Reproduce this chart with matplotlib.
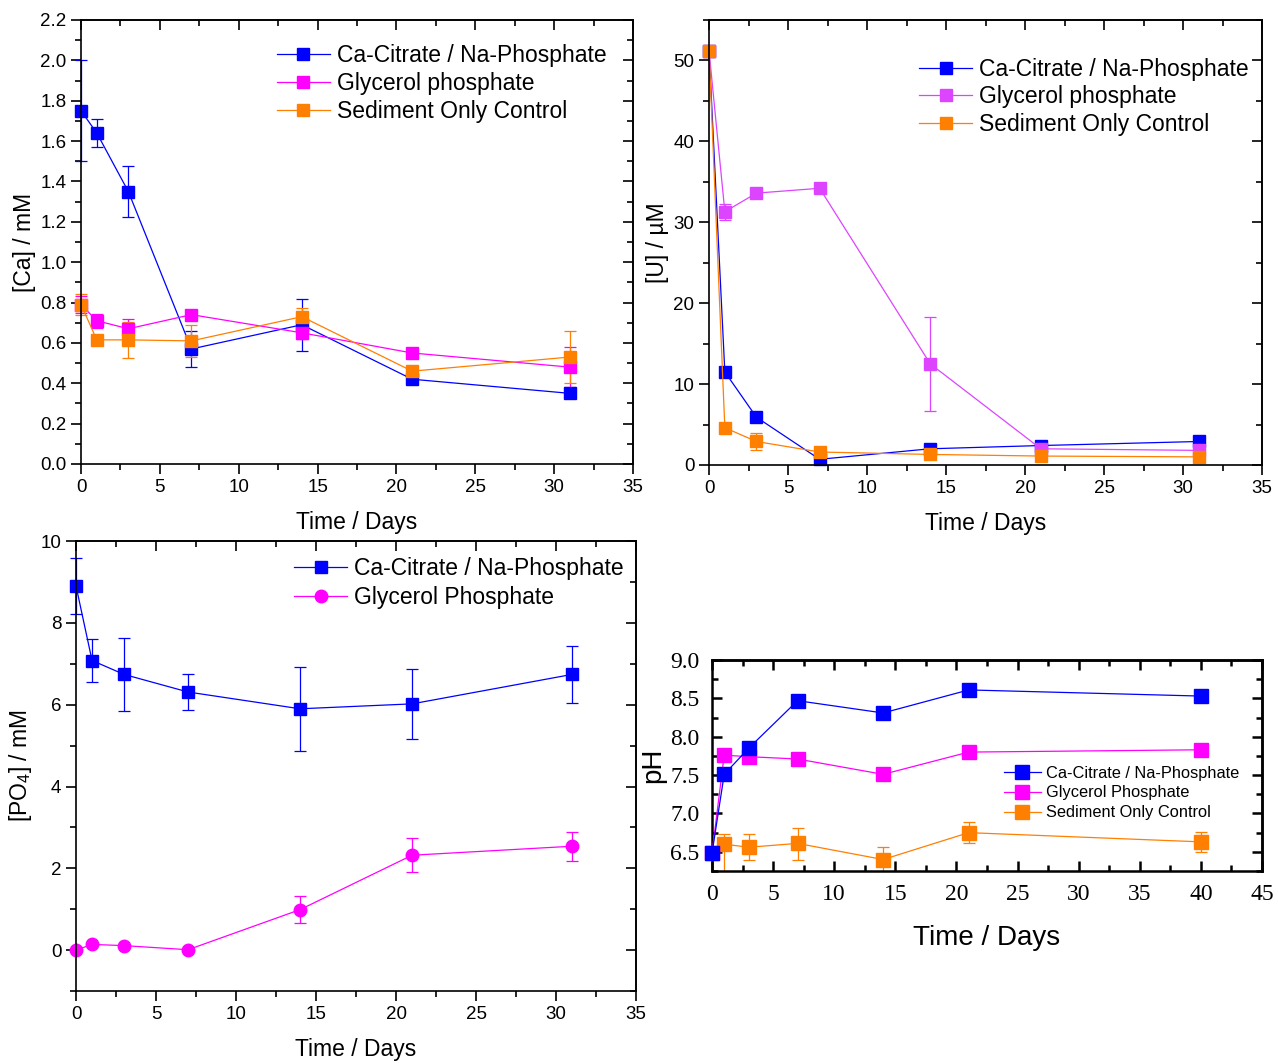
import numpy as np
import matplotlib
matplotlib.use("Agg")
import matplotlib.pyplot as plt
from matplotlib.ticker import MultipleLocator
from matplotlib.lines import Line2D

plt.rcParams['font.family'] = ['Liberation Sans', 'DejaVu Sans']
plt.rcParams['font.serif'] = ['Liberation Serif', 'DejaVu Serif']
plt.rcParams['mathtext.fontset'] = 'custom'
plt.rcParams['mathtext.rm'] = 'Liberation Sans'

# sampling days
days = [0, 1, 3, 7, 14, 21, 31]
days_ph = [0, 1, 3, 7, 14, 21, 40]
days_ph_ctrl = [1, 3, 7, 14, 21, 40]

labels3 = ["Ca-Citrate / Na-Phosphate", "Glycerol phosphate", "Sediment Only Control"]

# [Ca] / mM
ca_citrate = [1.75, 1.64, 1.35, 0.57, 0.69, 0.42, 0.35]
ca_citrate_err = [0.25, 0.07, 0.125, 0.09, 0.13, 0.02, 0.02]
ca_glycerol = [0.79, 0.71, 0.67, 0.74, 0.65, 0.55, 0.48]
ca_glycerol_err = [0.04, 0.035, 0.05, 0.01, 0.03, 0.01, 0.10]
ca_control = [0.79, 0.615, 0.615, 0.61, 0.73, 0.46, 0.53]
ca_control_err = [0.05, 0.01, 0.09, 0.08, 0.045, 0.02, 0.13]

# [U] / uM
u_citrate = [51.2, 11.5, 5.9, 0.7, 2.0, 2.4, 2.9]
u_citrate_err = [0.3, 0.3, 0.3, 0.3, 0.3, 0.5, 0.4]
u_glycerol = [51.2, 31.3, 33.6, 34.2, 12.5, 2.0, 1.8]
u_glycerol_err = [0.3, 1.0, 0.5, 0.3, 5.8, 0.5, 0.3]
u_control = [51.2, 4.6, 2.9, 1.6, 1.3, 1.1, 1.0]
u_control_err = [0.3, 0.3, 1.1, 0.3, 0.3, 0.3, 0.3]

# [PO4] / mM
po4_citrate = [8.9, 7.08, 6.74, 6.31, 5.9, 6.02, 6.74]
po4_citrate_err = [0.68, 0.52, 0.9, 0.43, 1.03, 0.86, 0.69]
po4_glycerol = [0.0, 0.14, 0.11, 0.01, 0.99, 2.32, 2.54]
po4_glycerol_err = [0.02, 0.02, 0.02, 0.02, 0.33, 0.41, 0.36]

# pH
ph_citrate = [6.48, 7.51, 7.85, 8.47, 8.31, 8.61, 8.53]
ph_glycerol = [6.48, 7.76, 7.74, 7.71, 7.51, 7.80, 7.83]
ph_control = [6.60, 6.56, 6.61, 6.40, 6.75, 6.63]
ph_control_err_lo = [0.40, 0.17, 0.21, 0.16, 0.14, 0.13]
ph_control_err_hi = [0.13, 0.17, 0.20, 0.16, 0.14, 0.13]
ph_xticks = [0, 5, 10, 15, 20, 25, 30, 35, 40, 45]
ph_yticks = [6.5, 7.0, 7.5, 8.0, 8.5, 9.0]

BLUE = '#0000FF'
MAGENTA = '#FF00FF'
VIOLET = '#DD44FF'
ORANGE = '#FF7F00'

fig = plt.figure(figsize=(12.78, 10.63), dpi=100)

def style_axes(ax, xmaj, ymaj, out=True, lw=1.2):
    for s in ax.spines.values():
        s.set_linewidth(lw)
    ax.xaxis.set_major_locator(MultipleLocator(xmaj))
    ax.xaxis.set_minor_locator(MultipleLocator(xmaj / 2))
    ax.yaxis.set_major_locator(MultipleLocator(ymaj))
    ax.yaxis.set_minor_locator(MultipleLocator(ymaj / 2))
    d = 'out' if out else 'in'
    ax.tick_params(which='both', direction=d, width=lw)
    ax.tick_params(which='major', length=7)
    ax.tick_params(which='minor', length=4)
    # mirrored ticks on top / right, pointing inwards
    top = ax.secondary_xaxis('top')
    top.xaxis.set_major_locator(MultipleLocator(xmaj))
    top.xaxis.set_minor_locator(MultipleLocator(xmaj / 2))
    top.tick_params(which='both', direction='in', labeltop=False, width=lw)
    top.tick_params(which='major', length=7)
    top.tick_params(which='minor', length=4)
    top.spines['top'].set_linewidth(lw)
    right = ax.secondary_yaxis('right')
    right.yaxis.set_major_locator(MultipleLocator(ymaj))
    right.yaxis.set_minor_locator(MultipleLocator(ymaj / 2))
    right.tick_params(which='both', direction='in', labelright=False, width=lw)
    right.tick_params(which='major', length=7)
    right.tick_params(which='minor', length=4)
    right.spines['right'].set_linewidth(lw)
    return top, right

def series(ax, x, y, err, color, marker='s', ms=8.5, z=2):
    ax.errorbar(x, y, yerr=err, fmt='-' + marker, color=color, mfc=color, mec=color,
                ms=ms, lw=0.9, elinewidth=0.9, capsize=4, capthick=0.9,
                zorder=z, clip_on=False)

def handle(color, marker='s', ms=8.5):
    return Line2D([], [], color=color, marker=marker, ms=ms, lw=0.9)

leg_kw = dict(loc='upper left', frameon=False, handletextpad=0.3,
              borderpad=0, borderaxespad=0)

# ---- panel A: calcium
axA = fig.add_axes([0.0634, 0.5635, 0.4319, 0.4177])
series(axA, days, ca_citrate, ca_citrate_err, BLUE)
series(axA, days, ca_glycerol, ca_glycerol_err, MAGENTA)
series(axA, days, ca_control, ca_control_err, ORANGE)
axA.set_xlim(0, 35)
axA.set_ylim(0, 2.2)
style_axes(axA, 5, 0.2)
axA.yaxis.set_minor_locator(MultipleLocator(0.1))
axA.tick_params(labelsize=13.5)
axA.set_xlabel("Time / Days", fontsize=16.5, labelpad=11)
axA.set_ylabel("[Ca] / mM", fontsize=16.5, labelpad=3)
axA.legend([handle(BLUE), handle(MAGENTA), handle(ORANGE)], labels3,
           bbox_to_anchor=(0.355, 0.946), fontsize=16.5, handlelength=2.3,
           labelspacing=0.22, **leg_kw)

# ---- panel B: uranium
axB = fig.add_axes([0.5548, 0.5626, 0.4327, 0.4186])
series(axB, days, u_citrate, u_citrate_err, BLUE)
series(axB, days, u_glycerol, u_glycerol_err, VIOLET)
series(axB, days, u_control, u_control_err, ORANGE)
axB.set_xlim(0, 35)
axB.set_ylim(0, 55)
style_axes(axB, 5, 10)
axB.tick_params(labelsize=13.5)
axB.set_xlabel("Time / Days", fontsize=16.5, labelpad=11)
axB.set_ylabel("[U] / µM", fontsize=16.5, labelpad=3)
axB.legend([handle(BLUE), handle(VIOLET), handle(ORANGE)], labels3,
           bbox_to_anchor=(0.38, 0.915), fontsize=16.5, handlelength=2.3,
           labelspacing=0.2, **leg_kw)

# ---- panel C: phosphate
axC = fig.add_axes([0.0595, 0.0677, 0.4382, 0.4233])
series(axC, days, po4_citrate, po4_citrate_err, BLUE)
series(axC, days, po4_glycerol, po4_glycerol_err, MAGENTA, marker='o', ms=9)
axC.set_xlim(0, 35)
axC.set_ylim(-1, 10)
style_axes(axC, 5, 2)
axC.set_yticks([0, 2, 4, 6, 8, 10])
axC.tick_params(labelsize=13.5)
axC.set_xlabel("Time / Days", fontsize=16.5, labelpad=11)
axC.set_ylabel("[PO$_4$] / mM", fontsize=16.5, labelpad=5)
axC.legend([handle(BLUE), handle(MAGENTA, 'o', 9)],
           ["Ca-Citrate / Na-Phosphate", "Glycerol Phosphate"],
           bbox_to_anchor=(0.39, 0.965), fontsize=16.5, handlelength=2.3,
           labelspacing=0.25, **leg_kw)

# ---- panel D: pH
axD = fig.add_axes([0.5571, 0.1806, 0.4304, 0.1985])
axD.plot(days_ph, ph_citrate, '-s', color=BLUE, ms=10, lw=0.9, zorder=4, clip_on=False)
axD.plot(days_ph, ph_glycerol, '-s', color=MAGENTA, ms=10, lw=0.9, zorder=3, clip_on=False)
axD.errorbar(days_ph_ctrl, ph_control, yerr=[ph_control_err_lo, ph_control_err_hi], fmt='-s',
             color=ORANGE, ms=10, lw=0.9, elinewidth=0.9, capsize=4, capthick=0.9, zorder=2)
axD.set_xlim(0, 45)
axD.set_ylim(6.25, 9.0)
style_axes(axD, 5, 0.5, out=False, lw=1.8)
axD.set_xticks(ph_xticks, [str(v) for v in ph_xticks], fontfamily='serif', fontsize=17)
axD.set_yticks(ph_yticks, ['%.1f' % v for v in ph_yticks], fontfamily='serif', fontsize=17)
axD.tick_params(pad=9)
axD.set_xlabel("Time / Days", fontsize=20, labelpad=15)
axD.set_ylabel("pH", fontsize=20, labelpad=3)
axD.legend([handle(BLUE, ms=10), handle(MAGENTA, ms=10), handle(ORANGE, ms=10)],
           ["Ca-Citrate / Na-Phosphate", "Glycerol Phosphate", "Sediment Only Control"],
           bbox_to_anchor=(0.53, 0.50), fontsize=11.8, handlelength=2.3,
           labelspacing=0.3, **leg_kw)

fig.savefig("out.png", dpi=100)
